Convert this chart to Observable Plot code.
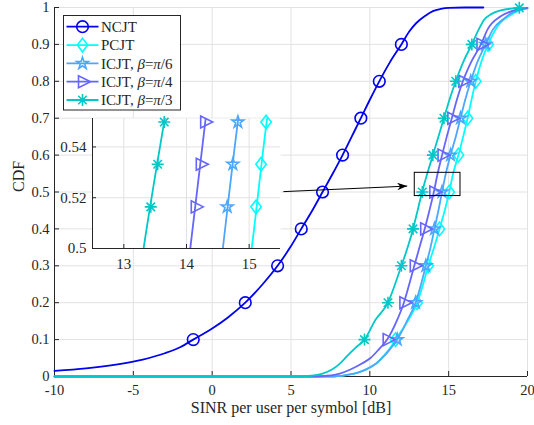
<!DOCTYPE html>
<html><head><meta charset="utf-8">
<script src="https://cdn.jsdelivr.net/npm/d3@7"></script>
<script src="https://cdn.jsdelivr.net/npm/@observablehq/plot@0.6"></script>
<style>
html,body{margin:0;padding:0;background:#fff;}
#chart{position:relative;width:534px;height:425px;overflow:hidden;}
#inset{position:absolute;left:52px;top:112px;}
</style></head><body><div id="chart"><div id="inset"></div></div>
<script>
// ---------- tick labels ----------
const xTicks = [-10, -5, 0, 5, 10, 15, 20];
const yTicks = [0, 0.1, 0.2, 0.3, 0.4, 0.5, 0.6, 0.7, 0.8, 0.9, 1];
const insetXTicks = [13, 14, 15];
const insetYTicks = [0.5, 0.52, 0.54];
const xDomain = [-10, 20];
const yDomain = [0, 1];
const insetXDomain = [12.5, 15.5];
const insetYDomain = [0.5, 0.5512];

// ---------- series ----------
const seriesNames = ["NCJT", "PCJT", "ICJT, β=π/6", "ICJT, β=π/4", "ICJT, β=π/3"];
const markerLevels = [0.1, 0.2, 0.3, 0.4, 0.5, 0.6, 0.7, 0.8, 0.9];

const ncjtX = [-10, -8, -6, -4.4, -3, -2, -1.2, 0, 1, 2.1, 3.2, 4.15, 4.95, 5.65, 6.35, 7.0, 7.65, 8.27, 8.85, 9.43, 10.0, 10.6, 11.25, 12.0, 12.5, 12.95, 13.5, 14.0, 14.5, 15.0, 16.0, 17.2];
const ncjtY = [0.015, 0.022, 0.033, 0.046, 0.063, 0.08, 0.1, 0.13, 0.16, 0.2, 0.25, 0.3, 0.35, 0.4, 0.45, 0.5, 0.55, 0.6, 0.65, 0.7, 0.75, 0.8, 0.85, 0.9, 0.935, 0.958, 0.977, 0.99, 0.996, 0.999, 1.0, 1.0];
const ncjtMarkX = [-1.2, 2.1, 4.15, 5.65, 7.0, 8.27, 9.43, 10.6, 12.0];

const pcjtX = [-10, 7.5, 8.5, 9.2, 9.8, 10.4, 10.85, 11.25, 11.63, 12.4, 13.0, 13.38, 13.7, 14.08, 14.42, 14.75, 15.04, 15.28, 15.62, 15.92, 16.2, 16.45, 16.72, 17.05, 17.5, 18.1, 18.94, 20];
const pcjtY = [0, 0, 0.004, 0.01, 0.02, 0.035, 0.055, 0.075, 0.1, 0.15, 0.2, 0.25, 0.3, 0.35, 0.4, 0.45, 0.5, 0.55, 0.6, 0.65, 0.7, 0.75, 0.8, 0.85, 0.9, 0.949, 0.98, 0.998];
const pcjtMarkX = [11.63, 13.0, 13.7, 14.42, 15.04, 15.62, 16.2, 16.72, 17.5];

const pi6X = [-10, 7.5, 8.5, 9.2, 9.8, 10.4, 10.9, 11.3, 11.74, 12.35, 12.9, 13.25, 13.55, 13.85, 14.1, 14.35, 14.58, 14.82, 15.12, 15.45, 15.75, 16.05, 16.4, 16.8, 17.35, 17.8, 18.5, 19.2, 20];
const pi6Y = [0, 0, 0.004, 0.01, 0.02, 0.035, 0.055, 0.075, 0.1, 0.15, 0.2, 0.25, 0.3, 0.35, 0.4, 0.45, 0.5, 0.55, 0.6, 0.65, 0.7, 0.75, 0.8, 0.85, 0.9, 0.94, 0.97, 0.99, 0.998];
const pi6MarkX = [11.74, 12.9, 13.55, 14.1, 14.58, 15.12, 15.75, 16.4, 17.35];

const pi4X = [-10, 6.5, 7.3, 8.1, 8.77, 9.5, 10.04, 10.6, 11.1, 11.7, 12.16, 12.5, 12.82, 13.15, 13.48, 13.78, 14.06, 14.3, 14.58, 14.88, 15.2, 15.52, 15.9, 16.4, 17.05, 17.46, 18.3, 19.0, 19.8, 20];
const pi4Y = [0, 0, 0.002, 0.008, 0.019, 0.035, 0.05, 0.075, 0.1, 0.15, 0.2, 0.25, 0.3, 0.35, 0.4, 0.45, 0.5, 0.55, 0.6, 0.65, 0.7, 0.75, 0.8, 0.85, 0.9, 0.94, 0.976, 0.99, 0.998, 0.999];
const pi4MarkX = [11.1, 12.16, 12.82, 13.48, 14.06, 14.58, 15.2, 15.9, 17.05];

const pi3X = [-10, 5.5, 6.3, 7.0, 7.6, 8.1, 8.6, 9.1, 9.66, 10.36, 11.15, 11.6, 12.0, 12.4, 12.74, 13.03, 13.315, 13.645, 14.0, 14.35, 14.7, 15.05, 15.45, 15.9, 16.47, 16.9, 17.25, 17.7, 18.3, 19.48];
const pi3Y = [0, 0, 0.002, 0.008, 0.019, 0.035, 0.057, 0.078, 0.1, 0.154, 0.2, 0.25, 0.3, 0.35, 0.4, 0.45, 0.5, 0.55, 0.6, 0.65, 0.7, 0.75, 0.8, 0.85, 0.9, 0.94, 0.967, 0.982, 0.992, 0.999];
const pi3MarkX = [9.66, 11.15, 12.0, 12.74, 13.33, 14.0, 14.7, 15.45, 16.47, 19.48];
const pi3MarkY = [0.1, 0.2, 0.3, 0.4, 0.5, 0.6, 0.7, 0.8, 0.9, 0.999];

// inset markers
const insetMarkY = [0.5164, 0.5332, 0.5498];
const pcjtInsetX = [15.11, 15.19, 15.27];
const pi6InsetX = [14.65, 14.74, 14.82];
const pi4InsetX = [14.14, 14.22, 14.29];
const pi3InsetX = [13.43, 13.54, 13.645];

// annotation (zoom box and arrow), data units
const zoomBoxX = [12.85, 15.75];
const zoomBoxY = [0.489, 0.552];
const arrowFrom = [4.52, 0.501];
const arrowTo = [12.37, 0.516];

// ---------- styles ----------
const colors = ["#0000f0", "#00ffff", "#4da6ff", "#6666ff", "#00c8c8"];
const FONT = "'Liberation Serif', 'Times New Roman', serif";
const AXIS = "#262626";
const GRID = "#e2e2e2";

// custom symbols (MATLAB-like)
const symCircle = {draw(c) { const r = 5.8; c.moveTo(r, 0); c.arc(0, 0, r, 0, 2 * Math.PI); c.closePath(); }};
const symDiamond = {draw(c) { c.moveTo(0, -6.8); c.lineTo(5.2, 0); c.lineTo(0, 6.8); c.lineTo(-5.2, 0); c.closePath(); }};
const symTriRight = {draw(c) { c.moveTo(8, 0); c.lineTo(-4, -6); c.lineTo(-4, 6); c.closePath(); }};
const symStar = {draw(c) {
  const R = 6.2, ri = R * 0.382;
  for (let i = 0; i < 10; i++) {
    const a = -Math.PI / 2 + i * Math.PI / 5, rr = i % 2 ? ri : R;
    const px = rr * Math.cos(a), py = rr * Math.sin(a);
    if (i) c.lineTo(px, py); else c.moveTo(px, py);
  }
  c.closePath();
}};
const symAsterisk = {draw(c) {
  const a = 6, d = a * Math.SQRT1_2;
  c.moveTo(-a, 0); c.lineTo(a, 0); c.moveTo(0, -a); c.lineTo(0, a);
  c.moveTo(-d, -d); c.lineTo(d, d); c.moveTo(-d, d); c.lineTo(d, -d);
}};
const symArrowHead = {draw(c) { c.moveTo(0, 0); c.lineTo(-10, -3.8); c.lineTo(-7, 0); c.lineTo(-10, 3.8); c.closePath(); }};
const symbols = [symCircle, symDiamond, symStar, symTriRight, symAsterisk];

const zip = (xs, ys) => xs.map((x, i) => ({x, y: ys[i]}));
const series = [
  {line: zip(ncjtX, ncjtY), marks: zip(ncjtMarkX, markerLevels), inset: []},
  {line: zip(pcjtX, pcjtY), marks: zip(pcjtMarkX, markerLevels), inset: zip(pcjtInsetX, insetMarkY)},
  {line: zip(pi6X, pi6Y), marks: zip(pi6MarkX, markerLevels), inset: zip(pi6InsetX, insetMarkY)},
  {line: zip(pi4X, pi4Y), marks: zip(pi4MarkX, markerLevels), inset: zip(pi4InsetX, insetMarkY)},
  {line: zip(pi3X, pi3Y), marks: zip(pi3MarkX, pi3MarkY), inset: zip(pi3InsetX, insetMarkY)}
];

// ---------- main plot ----------
const W = 534, H = 425, ML = 54, MR = 7, MT = 7, MB = 49;
const plotW = W - ML - MR, plotH = H - MT - MB;
const tickLen = 5;
const tyLen = tickLen / plotH * (yDomain[1] - yDomain[0]);
const txLen = tickLen / plotW * (xDomain[1] - xDomain[0]);

const seriesMarks = series.flatMap((s, i) => [
  Plot.line(s.line, {x: "x", y: "y", stroke: colors[i], strokeWidth: 1.8, curve: "monotone-x"}),
  Plot.dot(s.marks, {x: "x", y: "y", symbol: symbols[i], stroke: colors[i], fill: "none", strokeWidth: 1.6})
]);

const ang = Math.atan2(-(arrowTo[1] - arrowFrom[1]) * plotH / (yDomain[1] - yDomain[0]),
                       (arrowTo[0] - arrowFrom[0]) * plotW / (xDomain[1] - xDomain[0])) * 180 / Math.PI;

const main = Plot.plot({
  width: W, height: H,
  marginLeft: ML, marginRight: MR, marginTop: MT, marginBottom: MB,
  style: {fontFamily: FONT, fontSize: "15px", color: AXIS, background: "transparent"},
  x: {domain: xDomain, label: null},
  y: {domain: yDomain, label: null},
  marks: [
    Plot.gridX(xTicks, {stroke: GRID, strokeOpacity: 1}),
    Plot.gridY(yTicks, {stroke: GRID, strokeOpacity: 1}),
    Plot.axisX(xTicks, {tickSize: 0, tickPadding: 8, tickFormat: d => String(d), label: null, fill: AXIS, fontSize: 14.5}),
    Plot.axisY(yTicks, {tickSize: 0, tickPadding: 5, tickFormat: d => String(d), label: null, fill: AXIS, fontSize: 14.5}),
    Plot.ruleX(xTicks, {x: d => d, y1: yDomain[0], y2: yDomain[0] + tyLen, stroke: AXIS}),
    Plot.ruleY(yTicks, {y: d => d, x1: xDomain[0], x2: xDomain[0] + txLen, stroke: AXIS}),
    Plot.ruleX([xDomain[0]], {stroke: AXIS}),
    Plot.ruleY([yDomain[0]], {stroke: AXIS}),
    ...seriesMarks,
    Plot.rect([0], {x1: zoomBoxX[0], x2: zoomBoxX[1], y1: zoomBoxY[0], y2: zoomBoxY[1], stroke: "black", fill: "none", strokeWidth: 1}),
    Plot.link([0], {x1: arrowFrom[0], y1: arrowFrom[1], x2: arrowTo[0], y2: arrowTo[1], stroke: "black", strokeWidth: 1}),
    Plot.dot([0], {x: arrowTo[0], y: arrowTo[1], symbol: symArrowHead, fill: "black", stroke: "none", rotate: ang}),
    Plot.text(["SINR per user per symbol [dB]"], {text: d => d, frameAnchor: "bottom", dy: 36, fontSize: 16, fill: AXIS}),
    Plot.text(["CDF"], {text: d => d, frameAnchor: "left", dx: -36, rotate: -90, fontSize: 16, fill: AXIS})
  ]
});
document.getElementById("chart").insertBefore(main, document.getElementById("inset"));

// ---------- legend ----------
{
  const svg = d3.select(main);
  const g = svg.append("g").attr("font-family", FONT).attr("font-size", 15).attr("fill", AXIS)
    .attr("text-anchor", "start");
  g.append("rect").attr("x", 63.5).attr("y", 15.5).attr("width", 117).attr("height", 94.5)
    .attr("fill", "white").attr("stroke", AXIS).attr("stroke-width", 1);
  const labels = [
    [["NCJT", false]],
    [["PCJT", false]],
    [["ICJT, ", false], ["β", true], ["=", false], ["π", true], ["/6", false]],
    [["ICJT, ", false], ["β", true], ["=", false], ["π", true], ["/4", false]],
    [["ICJT, ", false], ["β", true], ["=", false], ["π", true], ["/3", false]]
  ];
  labels.forEach((parts, i) => {
    const y = 26.7 + i * 18.33;
    g.append("line").attr("x1", 66.5).attr("x2", 98.5).attr("y1", y).attr("y2", y)
      .attr("stroke", colors[i]).attr("stroke-width", 1.8);
    g.append("path").attr("d", d3.symbol(symbols[i])()).attr("transform", `translate(82.5,${y})`)
      .attr("fill", "none").attr("stroke", colors[i]).attr("stroke-width", 1.6);
    const t = g.append("text").attr("x", 101).attr("y", y + 5.3).attr("text-anchor", "start");
    parts.forEach(([s, it]) => { const ts = t.append("tspan").text(s); if (it) ts.attr("font-style", "italic"); });
  });
}

// ---------- inset ----------
const IW = 236, IH = 164, IML = 40, IMR = 8, IMT = 6, IMB = 28;
const iPlotW = IW - IML - IMR, iPlotH = IH - IMT - IMB;
const iTick = 4;
const ityLen = iTick / iPlotH * (insetYDomain[1] - insetYDomain[0]);
const itxLen = iTick / iPlotW * (insetXDomain[1] - insetXDomain[0]);
const insetSeries = series.slice(1).flatMap((s, j) => {
  const i = j + 1;
  return [
    Plot.line(s.line, {x: "x", y: "y", stroke: colors[i], strokeWidth: 1.8, curve: "monotone-x", clip: true}),
    Plot.dot(s.inset, {x: "x", y: "y", symbol: symbols[i], stroke: colors[i], fill: "none", strokeWidth: 1.6})
  ];
});
const inset = Plot.plot({
  width: IW, height: IH,
  marginLeft: IML, marginRight: IMR, marginTop: IMT, marginBottom: IMB,
  style: {fontFamily: FONT, fontSize: "15px", color: AXIS, background: "transparent"},
  x: {domain: insetXDomain, label: null},
  y: {domain: insetYDomain, label: null},
  marks: [
    Plot.frame({fill: "white", stroke: "none"}),
    Plot.gridX(insetXTicks, {stroke: GRID, strokeOpacity: 1}),
    Plot.gridY(insetYTicks, {stroke: GRID, strokeOpacity: 1}),
    Plot.axisX(insetXTicks, {tickSize: 0, tickPadding: 10, tickFormat: d => String(d), label: null, fill: AXIS, fontSize: 15}),
    Plot.axisY(insetYTicks, {tickSize: 0, tickPadding: 6, tickFormat: d => String(d), label: null, fill: AXIS, fontSize: 15}),
    Plot.ruleX(insetXTicks, {x: d => d, y1: insetYDomain[0], y2: insetYDomain[0] + ityLen, stroke: AXIS}),
    Plot.ruleY(insetYTicks, {y: d => d, x1: insetXDomain[0], x2: insetXDomain[0] + itxLen, stroke: AXIS}),
    ...insetSeries,
    Plot.ruleX([insetXDomain[0]], {stroke: AXIS}),
    Plot.ruleY([insetYDomain[0]], {stroke: AXIS})
  ]
});
document.getElementById("inset").appendChild(inset);
</script>
</body></html>
